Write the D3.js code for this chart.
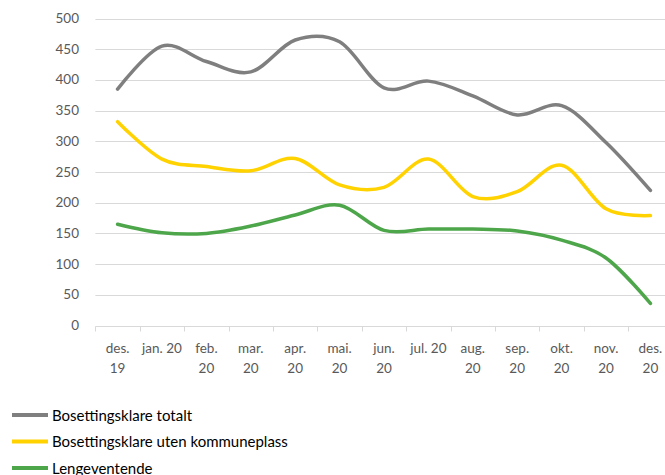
<!DOCTYPE html>
<html lang="no">
<head>
<meta charset="utf-8">
<title>Bosettingsklare</title>
<script src="https://cdn.jsdelivr.net/npm/d3@7"></script>
<style>
    body { margin: 0; background: #fff; }
    text { font-family: Lato, "Open Sans", sans-serif; }
</style>
</head>
<body>
<script>
    // kategorier (måneder), to linjer per etikett
    var categories = ["des. 19", "jan. 20", "feb. 20", "mar. 20", "apr. 20", "mai. 20", "jun. 20",
        "jul. 20", "aug. 20", "sep. 20", "okt. 20", "nov. 20", "des. 20"];
    var tickLines = [["des.", "19"], ["jan. 20"], ["feb.", "20"], ["mar.", "20"], ["apr.", "20"], ["mai.", "20"],
        ["jun.", "20"], ["jul. 20"], ["aug.", "20"], ["sep.", "20"], ["okt.", "20"], ["nov.", "20"], ["des.", "20"]];
    var yTicks = [0, 50, 100, 150, 200, 250, 300, 350, 400, 450, 500];

    var totalt = [385, 455, 430, 413, 465, 462, 387, 398, 374, 343, 358, 298, 220];
    var utenPlass = [332, 271, 259, 252, 272, 229, 225, 271, 210, 218, 261, 190, 179];
    var lengeventende = [165, 151, 150, 162, 180, 196, 155, 157, 157, 154, 139, 110, 36];

    var seriesNames = ["Bosettingsklare totalt", "Bosettingsklare uten kommuneplass", "Lengeventende"];
    var seriesColors = ["#7f7f7f", "#ffd200", "#4ea64b"];
    var seriesData = [totalt, utenPlass, lengeventende];

    var width = 665, height = 475;
    var svg = d3.select("body").append("svg")
        .attr("width", width)
        .attr("height", height);

    var left = 95.4, step = 44.4;
    var x = d3.scaleBand()
        .domain(categories)
        .range([left, left + step * categories.length]);
    var y = d3.scaleLinear()
        .domain([0, 500])
        .range([325.5, 18.5]);

    // rutenett
    svg.append("g").selectAll("line")
        .data(yTicks)
        .enter().append("line")
        .attr("x1", x.range()[0])
        .attr("x2", x.range()[1])
        .attr("y1", function (d) { return Math.round(y(d)) + 0.5; })
        .attr("y2", function (d) { return Math.round(y(d)) + 0.5; })
        .attr("stroke", "#d9d9d9")
        .attr("stroke-width", 1);

    // y-etiketter
    svg.append("g").selectAll("text")
        .data(yTicks)
        .enter().append("text")
        .attr("x", 79)
        .attr("y", function (d) { return y(d) + 4.5; })
        .attr("text-anchor", "end")
        .attr("fill", "#595959")
        .attr("font-size", "13.5px")
        .text(function (d) { return d; });

    // tick-streker på x-aksen
    var bounds = categories.map(function (c) { return x(c); });
    bounds.push(x.range()[1]);
    svg.append("g").selectAll("line")
        .data(bounds)
        .enter().append("line")
        .attr("x1", function (d) { return Math.round(d) + 0.5; })
        .attr("x2", function (d) { return Math.round(d) + 0.5; })
        .attr("y1", Math.round(y(0)) + 0.5)
        .attr("y2", Math.round(y(0)) + 5.5)
        .attr("stroke", "#d9d9d9");

    // x-etiketter
    var xl = svg.append("g").selectAll("text")
        .data(categories)
        .enter().append("text")
        .attr("text-anchor", "middle")
        .attr("fill", "#595959")
        .attr("font-size", "13.5px")
        .attr("transform", function (d) { return "translate(" + (x(d) + x.bandwidth() / 2) + ",353)"; });
    xl.selectAll("tspan")
        .data(function (d, i) { return tickLines[i]; })
        .enter().append("tspan")
        .attr("x", 0)
        .attr("dy", function (d, i) { return i === 0 ? 0 : 20; })
        .text(function (d) { return d; });

    // linjer
    var line = d3.line()
        .x(function (d, i) { return x(categories[i]) + x.bandwidth() / 2; })
        .y(function (d) { return y(d); })
        .curve(d3.curveCardinal.tension(0));

    svg.append("g").selectAll("path")
        .data(seriesData)
        .enter().append("path")
        .attr("d", function (d) { return line(d); })
        .attr("fill", "none")
        .attr("stroke", function (d, i) { return seriesColors[i]; })
        .attr("stroke-width", 3.5)
        .attr("stroke-linecap", "round")
        .attr("stroke-linejoin", "round");

    // legende
    var lg = svg.append("g").selectAll("g")
        .data(seriesNames)
        .enter().append("g")
        .attr("transform", function (d, i) { return "translate(0," + (415 + i * 26.5) + ")"; });
    lg.append("line")
        .attr("x1", 12).attr("x2", 48)
        .attr("y1", 0).attr("y2", 0)
        .attr("stroke", function (d, i) { return seriesColors[i]; })
        .attr("stroke-width", 4);
    lg.append("text")
        .attr("x", 52)
        .attr("y", 5.5)
        .attr("font-size", "15px")
        .attr("fill", "#000")
        .text(function (d) { return d; });
</script>
</body>
</html>
